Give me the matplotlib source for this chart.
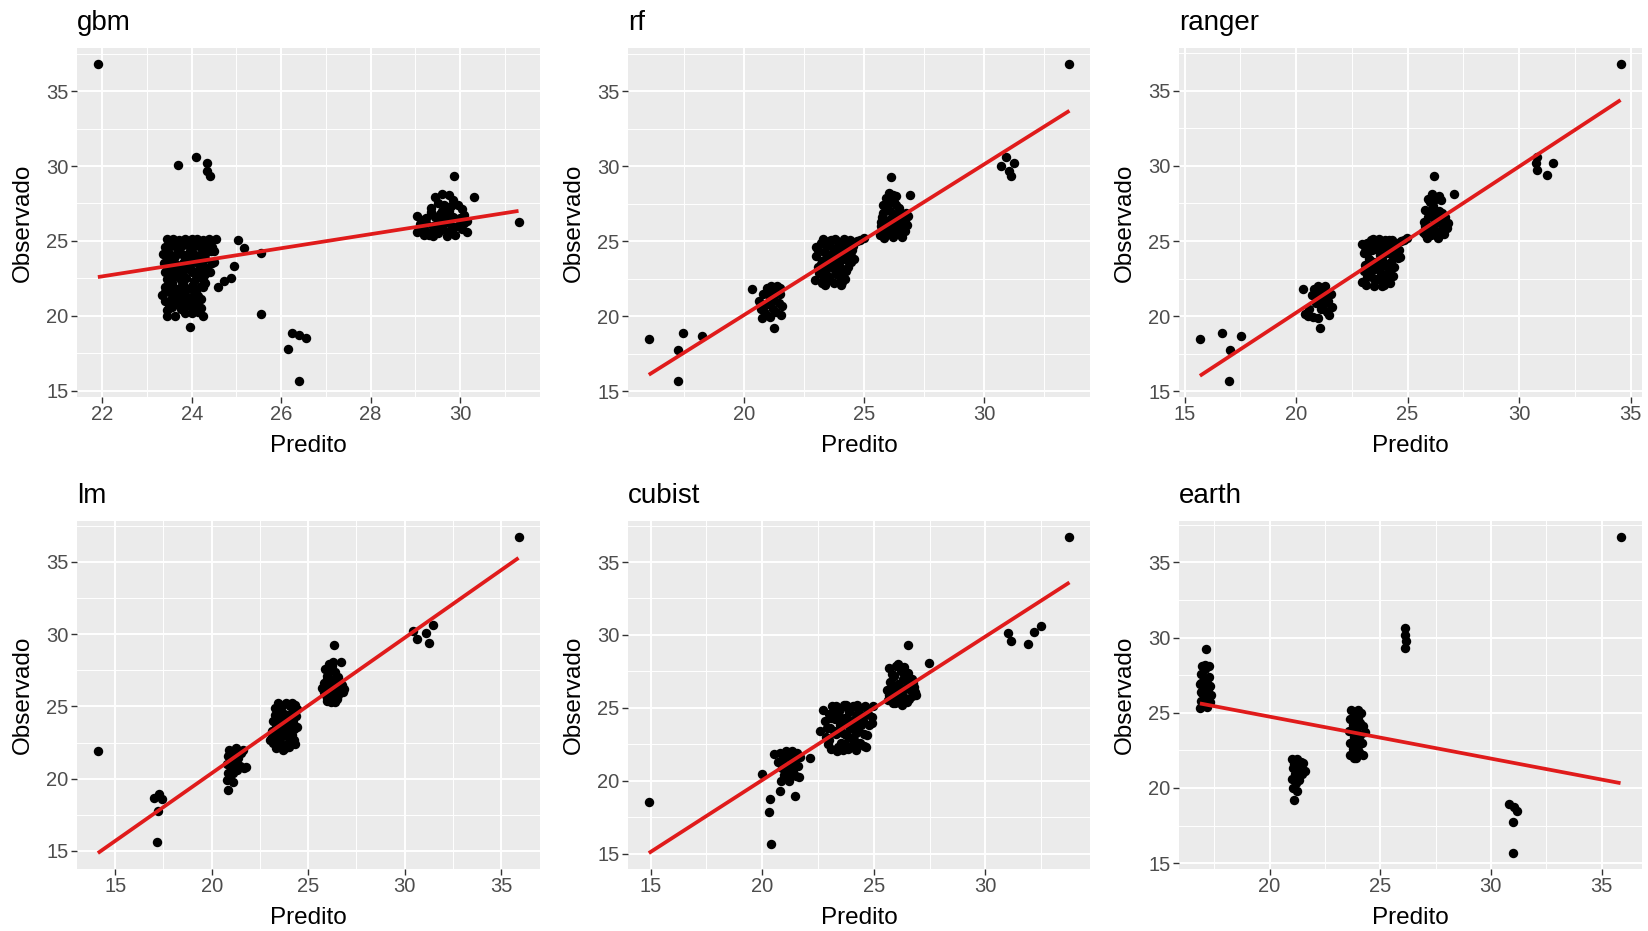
import matplotlib
matplotlib.use('Agg')
import matplotlib.pyplot as plt
from matplotlib.ticker import AutoMinorLocator

plt.rcParams['font.family'] = ['Liberation Sans', 'DejaVu Sans']

model_names = ['gbm', 'rf', 'ranger', 'lm', 'cubist', 'earth']

# (predito, observado) pairs for each model
gbm_points = [
    (21.9, 36.8), (23.7, 30.05), (24.1, 30.6), (24.33, 30.2), (24.35, 29.65), (24.4, 29.35),
    (25.55, 20.1), (26.25, 18.85), (26.4, 18.7), (26.55, 18.5), (26.15, 17.75), (26.4, 15.65),
    (31.31, 26.28), (29.86, 29.3), (30.32, 27.95), (29.03, 26.65),
    (23.45, 25.1), (23.58, 25.15), (23.72, 25.05), (23.85, 25.15), (24.0, 25.1), (24.12, 25.15),
    (24.25, 25.05), (24.38, 25.1), (24.55, 25.15),
    (23.4, 24.6), (23.55, 24.7), (23.68, 24.55), (23.8, 24.75), (23.95, 24.6), (24.08, 24.7),
    (24.2, 24.55), (24.33, 24.75), (24.45, 24.6),
    (23.35, 24.1), (23.5, 24.2), (23.62, 24.0), (23.78, 24.15), (23.9, 24.05), (24.03, 24.2),
    (24.15, 24.0), (24.3, 24.15), (24.42, 24.3), (24.5, 23.6),
    (23.38, 23.5), (23.52, 23.6), (23.66, 23.4), (23.8, 23.55), (23.95, 23.45), (24.1, 23.6),
    (24.22, 23.4), (24.35, 23.2),
    (23.4, 22.9), (23.55, 23.05), (23.7, 22.95), (23.85, 23.1), (24.0, 22.9), (24.12, 23.0),
    (24.3, 22.8), (24.4, 22.9),
    (23.45, 22.45), (23.6, 22.6), (23.75, 22.4), (23.88, 22.55), (24.05, 22.35), (24.18, 22.6),
    (24.3, 22.2),
    (23.5, 24.85), (23.65, 24.9), (23.9, 24.85), (24.15, 24.85), (24.4, 24.9), (23.45, 24.35),
    (23.7, 24.4), (23.95, 24.35), (24.25, 24.35), (24.5, 24.3), (23.45, 23.8), (23.6, 23.85),
    (23.85, 23.8), (24.05, 23.85), (24.3, 23.8), (23.45, 23.25), (23.7, 23.2), (23.95, 23.2),
    (24.2, 23.2), (24.45, 23.5), (23.5, 22.7), (23.8, 22.75), (24.1, 22.7), (24.25, 22.5),
    (23.55, 22.2), (23.8, 22.1), (24.0, 22.0), (24.2, 21.95), (23.4, 21.9), (23.55, 21.2),
    (23.9, 21.75), (24.15, 20.8), (23.5, 20.5), (24.0, 20.2),
    (24.58, 21.9), (24.73, 22.3), (24.88, 22.5), (24.95, 23.3), (25.03, 25.05), (25.17, 24.54),
    (25.55, 24.2),
    (23.33, 21.35), (23.5, 21.8), (23.62, 21.5), (23.75, 21.9), (23.85, 21.4), (24.02, 21.7),
    (24.15, 21.3), (24.25, 21.9), (23.48, 20.8), (23.6, 20.8), (23.44, 20.4), (23.63, 20.0),
    (23.92, 20.7), (23.96, 19.25), (24.1, 20.9), (24.2, 20.5), (24.25, 20.0), (23.8, 21.0),
    (24.05, 21.2), (23.7, 21.2),
    (23.4, 21.6), (23.55, 21.45), (23.65, 21.75), (23.8, 21.55), (23.95, 21.2), (24.1, 21.55),
    (24.2, 21.1), (23.4, 21.0), (23.55, 20.6), (23.75, 20.45), (23.45, 20.0), (24.0, 20.55),
    (24.15, 20.25), (23.7, 20.9), (23.85, 20.2),
    (29.45, 27.9), (29.6, 28.1), (29.75, 28.05), (29.85, 27.7), (29.5, 27.5), (29.65, 27.4),
    (29.8, 27.3), (29.35, 27.2), (29.95, 27.4), (30.05, 27.1),
    (29.05, 25.6), (29.1, 26.1), (29.2, 25.8), (29.25, 26.5), (29.3, 25.4), (29.4, 26.0),
    (29.45, 26.6), (29.5, 25.5), (29.55, 26.3), (29.6, 25.9), (29.65, 26.8), (29.7, 25.3),
    (29.75, 26.2), (29.8, 25.7), (29.85, 26.6), (29.9, 25.4), (29.95, 26.0), (30.0, 26.5),
    (30.05, 25.8), (30.1, 26.2), (30.15, 25.6), (29.35, 26.9), (29.6, 27.0), (29.15, 26.4),
    (30.1, 26.7), (29.4, 25.3),
    (29.2, 25.4), (29.35, 25.6), (29.5, 26.0), (29.7, 26.5), (29.85, 25.9), (30.0, 26.1),
    (29.55, 26.8), (29.75, 27.0), (29.25, 26.2), (30.15, 26.3), (29.7, 25.6), (29.45, 25.8),
]

rf_points = [
    (16.05, 18.5), (17.28, 17.75), (17.28, 15.7), (17.47, 18.9), (18.28, 18.67), (33.55, 36.8),
    (30.71, 30.04), (30.89, 30.6), (31.04, 29.7), (31.1, 29.33), (31.23, 30.2),
    (20.35, 21.8), (20.65, 21.0), (20.7, 20.5), (20.75, 19.9), (20.8, 21.5), (20.9, 20.2),
    (20.95, 21.9), (21.0, 20.8), (21.05, 21.4), (21.1, 19.95), (21.15, 22.0), (21.2, 20.5),
    (21.25, 21.1), (21.25, 19.2), (21.3, 21.7), (21.35, 20.3), (21.4, 22.0), (21.45, 20.9),
    (21.5, 21.5), (21.55, 20.1), (21.6, 20.7), (21.5, 21.9), (20.85, 20.7), (21.1, 21.7),
    (23.0, 24.6), (23.0, 24.0), (22.97, 22.4), (23.1, 23.3), (23.15, 22.9), (23.2, 24.9),
    (23.3, 25.15), (23.35, 24.3), (23.4, 23.6), (23.4, 22.1), (23.5, 22.7), (23.55, 24.8),
    (23.6, 23.9), (23.65, 25.1), (23.7, 23.2), (23.75, 22.2), (23.8, 24.5), (23.85, 22.8),
    (23.9, 25.0), (23.95, 23.6), (24.0, 24.2), (24.05, 22.1), (24.1, 23.0), (24.15, 24.9),
    (24.2, 23.8), (24.2, 22.5), (24.3, 24.5), (24.35, 23.3), (24.4, 25.1), (24.45, 24.0),
    (24.55, 24.7), (24.6, 23.85), (24.7, 25.05), (24.85, 25.1), (25.0, 25.2), (23.25, 23.7),
    (23.5, 23.3), (23.7, 24.3), (24.0, 22.6), (23.3, 22.4), (23.9, 23.1), (24.25, 24.1),
    (23.1, 24.4), (23.2, 23.5), (23.25, 22.2), (23.45, 24.7), (23.5, 24.0), (23.6, 22.4),
    (23.65, 23.5), (23.8, 23.7), (23.85, 24.0), (24.0, 23.3), (24.05, 24.7), (24.1, 22.3),
    (24.25, 23.0), (24.35, 24.8), (24.5, 24.4), (24.45, 23.6), (23.3, 23.0), (23.55, 25.0),
    (23.8, 25.15), (24.15, 25.15),
    (25.65, 25.4), (25.7, 26.0), (25.75, 26.6), (25.8, 27.4), (25.85, 25.2), (25.9, 27.9),
    (25.95, 26.3), (26.0, 25.7), (26.05, 28.2), (26.1, 27.0), (26.15, 26.0), (26.2, 25.3),
    (26.25, 27.6), (26.3, 26.6), (26.35, 28.0), (26.4, 25.8), (26.45, 27.2), (26.5, 26.2),
    (26.55, 25.4), (26.6, 26.8), (26.65, 25.9), (26.7, 26.4), (26.8, 26.1), (26.85, 26.7),
    (25.8, 26.9), (26.0, 27.5), (26.2, 28.1), (26.4, 26.9), (26.12, 29.3), (26.9, 28.1),
    (25.7, 25.6), (26.3, 25.5),
    (25.75, 25.9), (25.9, 25.5), (26.1, 25.6), (26.25, 26.3), (26.5, 25.7), (26.6, 25.3),
    (26.75, 26.9), (26.7, 25.7), (26.05, 26.4), (25.95, 27.2), (26.15, 27.8), (26.35, 27.4),
    (25.7, 26.3),
]

ranger_points = [
    (15.69, 18.49), (16.67, 18.9), (17.02, 17.76), (16.99, 15.71), (17.52, 18.67), (34.55, 36.76),
    (30.74, 30.16), (30.8, 29.7), (31.25, 29.4), (31.54, 30.2), (30.8, 30.6),
    (20.32, 21.82), (20.42, 20.16), (20.55, 20.0), (20.78, 19.98), (20.7, 21.4), (20.8, 21.8),
    (20.9, 20.9), (20.95, 21.6), (21.0, 22.0), (21.05, 21.2), (21.09, 19.2), (21.1, 20.5),
    (21.15, 21.9), (21.2, 21.4), (21.25, 20.8), (21.3, 22.0), (21.35, 21.6), (21.4, 20.3),
    (21.45, 21.0), (21.5, 20.1), (21.55, 21.5), (21.6, 20.6), (20.6, 20.5), (21.0, 19.9),
    (22.95, 24.8), (22.95, 22.3), (23.05, 24.2), (23.1, 23.4), (23.15, 22.1), (23.2, 24.9),
    (23.25, 23.8), (23.3, 22.7), (23.35, 25.1), (23.4, 24.4), (23.45, 23.1), (23.5, 22.0),
    (23.55, 24.9), (23.6, 23.6), (23.65, 22.5), (23.7, 25.15), (23.75, 24.1), (23.8, 22.9),
    (23.85, 22.0), (23.9, 24.7), (23.95, 23.4), (24.0, 25.1), (24.05, 22.4), (24.1, 24.2),
    (24.15, 23.0), (24.2, 24.8), (24.25, 23.6), (24.3, 25.1), (24.35, 22.7), (24.4, 24.4),
    (24.5, 24.9), (24.55, 23.9), (24.68, 23.93), (24.7, 25.0), (24.85, 25.1), (24.97, 25.2),
    (23.3, 23.2), (23.6, 24.5), (23.9, 22.3), (24.2, 22.2),
    (23.05, 23.0), (23.1, 24.6), (23.2, 22.6), (23.35, 23.7), (23.45, 24.7), (23.5, 22.5),
    (23.7, 23.3), (23.75, 24.6), (23.85, 23.8), (24.0, 22.7), (24.05, 24.45), (24.1, 23.5),
    (24.3, 24.1), (24.4, 23.3), (24.45, 24.7), (24.6, 24.4), (23.45, 25.15), (24.15, 25.1),
    (23.95, 22.05), (23.2, 24.2),
    (25.7, 25.6), (25.75, 26.3), (25.8, 27.1), (25.85, 25.2), (25.9, 27.8), (25.95, 26.0),
    (26.0, 26.8), (26.05, 25.4), (26.1, 28.1), (26.15, 27.3), (26.2, 25.8), (26.25, 26.5),
    (26.3, 27.9), (26.35, 25.2), (26.4, 27.0), (26.45, 26.2), (26.5, 25.6), (26.55, 26.9),
    (26.6, 26.0), (26.65, 25.5), (26.7, 26.6), (26.8, 26.2), (26.0, 27.6), (26.3, 26.9),
    (25.9, 26.6), (26.2, 29.3), (27.08, 28.1), (26.5, 27.7),
    (25.8, 25.5), (25.95, 25.6), (26.15, 26.1), (26.4, 25.6), (26.6, 26.5), (26.75, 25.9),
    (26.5, 26.4), (26.05, 27.0), (26.2, 27.7), (25.8, 26.0), (26.4, 28.0),
]

lm_points = [
    (14.1, 21.88), (16.99, 18.69), (17.27, 18.92), (17.4, 18.6), (17.21, 17.76), (17.18, 15.62),
    (35.9, 36.75),
    (30.41, 30.23), (30.63, 29.65), (31.1, 30.07), (31.28, 29.37), (31.46, 30.62),
    (20.82, 19.23), (20.8, 19.9), (20.85, 20.4), (20.8, 21.0), (20.85, 21.6), (20.9, 22.0),
    (20.95, 20.1), (21.0, 20.7), (21.0, 21.3), (21.05, 21.9), (21.1, 19.8), (21.1, 20.4),
    (21.15, 21.0), (21.2, 21.7), (21.25, 22.1), (21.3, 20.6), (21.35, 21.4), (21.4, 21.9),
    (21.45, 20.9), (21.5, 21.8), (21.65, 20.76), (21.8, 20.8), (21.6, 22.0), (20.95, 21.4),
    (23.0, 22.7), (23.1, 23.3), (23.15, 22.5), (23.2, 24.0), (23.3, 24.9), (23.35, 23.6),
    (23.4, 22.2), (23.45, 25.2), (23.5, 24.4), (23.55, 22.9), (23.6, 23.9), (23.65, 25.0),
    (23.7, 22.0), (23.75, 24.5), (23.8, 23.2), (23.85, 25.2), (23.9, 22.4), (23.95, 24.0),
    (24.0, 23.5), (24.05, 25.0), (24.1, 24.5), (24.15, 23.0), (24.2, 23.9), (24.25, 22.67),
    (24.3, 25.1), (24.35, 24.3), (24.4, 24.8), (24.4, 23.6), (23.5, 23.3), (23.8, 22.1),
    (24.0, 22.8), (23.3, 24.4),
    (23.1, 22.9), (23.2, 23.0), (23.3, 23.3), (23.4, 24.0), (23.45, 22.6), (23.6, 24.6),
    (23.65, 22.3), (23.7, 23.7), (23.85, 24.4), (23.9, 23.5), (24.0, 22.2), (24.1, 24.0),
    (24.2, 24.9), (24.25, 23.4), (24.3, 22.4), (23.55, 25.1), (24.15, 25.2), (23.35, 22.1),
    (23.6, 22.9),
    (25.7, 26.3), (25.8, 26.6), (25.85, 27.6), (25.9, 25.8), (26.0, 27.1), (26.0, 25.4),
    (26.1, 27.9), (26.1, 26.2), (26.2, 25.3), (26.25, 26.8), (26.3, 28.1), (26.35, 25.8),
    (26.4, 27.4), (26.45, 26.4), (26.5, 25.5), (26.55, 27.0), (26.6, 26.0), (26.7, 28.1),
    (26.75, 26.5), (26.88, 26.2), (26.33, 29.26), (26.2, 27.5), (25.95, 26.9), (26.4, 25.3),
    (25.8, 26.0), (25.95, 25.6), (26.15, 26.5), (26.3, 25.6), (26.55, 25.8), (26.65, 26.7),
    (26.8, 26.0), (26.05, 27.4), (26.25, 27.8), (26.5, 26.2),
]

cubist_points = [
    (14.92, 18.53), (33.77, 36.75),
    (31.03, 30.11), (31.14, 29.6), (31.9, 29.38), (32.2, 30.23), (32.5, 30.6),
    (20.0, 20.46), (20.35, 18.75), (20.29, 17.84), (20.41, 15.67), (20.81, 19.27), (20.84, 20.0),
    (21.2, 20.0), (21.48, 18.93), (21.67, 20.23), (22.14, 21.55),
    (20.55, 21.8), (20.7, 21.3), (20.8, 21.9), (20.9, 20.9), (20.95, 21.5), (21.05, 22.0),
    (21.1, 21.0), (21.15, 20.5), (21.2, 21.7), (21.3, 21.2), (21.35, 22.0), (21.4, 20.7),
    (21.45, 21.5), (21.5, 20.3), (21.55, 21.9), (21.6, 21.0), (21.7, 21.6), (21.0, 20.4),
    (21.25, 20.3),
    (22.73, 24.84), (22.57, 23.42), (22.8, 24.1), (22.85, 23.0), (22.95, 22.5), (23.0, 24.6),
    (23.05, 23.6), (23.1, 22.2), (23.15, 25.1), (23.25, 24.2), (23.3, 23.2), (23.35, 22.0),
    (23.45, 24.8), (23.5, 23.8), (23.55, 22.6), (23.65, 25.2), (23.7, 24.3), (23.75, 23.1),
    (23.85, 22.2), (23.9, 24.7), (23.95, 23.6), (24.05, 25.1), (24.1, 22.8), (24.15, 24.2),
    (24.2, 22.1), (24.3, 23.5), (24.35, 24.9), (24.4, 22.6), (24.5, 24.1), (24.55, 23.2),
    (24.6, 25.1), (24.65, 22.3), (24.75, 24.6), (24.8, 23.8), (24.92, 23.93), (24.95, 25.1),
    (24.9, 24.4), (23.4, 23.4), (23.8, 23.9), (24.2, 23.3), (24.0, 24.1), (23.6, 22.1),
    (22.9, 23.6), (23.0, 22.8), (23.1, 24.3), (23.2, 23.4), (23.3, 24.8), (23.4, 22.3),
    (23.55, 24.3), (23.6, 23.3), (23.7, 22.5), (23.85, 24.9), (23.9, 23.0), (24.0, 22.4),
    (24.1, 23.9), (24.25, 24.6), (24.3, 22.5), (24.45, 23.8), (24.6, 24.5), (24.7, 23.1),
    (23.75, 25.2), (24.25, 25.2), (23.3, 25.1), (24.55, 22.4),
    (25.6, 26.2), (25.65, 25.5), (25.7, 27.7), (25.75, 26.8), (25.85, 25.3), (25.9, 27.2),
    (25.95, 26.0), (26.0, 27.9), (26.05, 25.6), (26.1, 26.6), (26.2, 27.5), (26.25, 25.2),
    (26.3, 26.2), (26.35, 27.8), (26.4, 25.7), (26.45, 26.9), (26.5, 25.4), (26.55, 27.4),
    (26.6, 26.3), (26.7, 25.8), (26.75, 26.7), (26.85, 26.1), (26.9, 25.9), (26.55, 29.33),
    (27.48, 28.1), (26.1, 28.0),
    (25.7, 25.9), (25.85, 26.5), (25.8, 27.3), (26.0, 26.4), (26.15, 25.4), (26.3, 27.0),
    (26.45, 26.4), (26.6, 25.6), (26.8, 26.4), (26.7, 27.0), (26.2, 26.0), (25.95, 25.3),
]

earth_points = [
    (35.86, 36.72),
    (26.1, 30.65), (26.1, 30.2), (26.15, 29.76), (26.12, 29.3),
    (30.82, 18.94), (31.03, 18.71), (31.19, 18.49), (30.98, 17.72), (31.0, 15.67),
    (16.85, 25.3), (16.9, 25.8), (16.88, 26.4), (16.92, 27.0), (16.9, 27.6), (16.95, 28.1),
    (17.0, 25.5), (17.05, 26.1), (17.0, 26.8), (17.05, 27.3), (17.1, 27.9), (17.15, 25.4),
    (17.2, 26.6), (17.15, 27.0), (17.25, 28.1), (17.3, 26.8), (17.3, 25.7), (17.35, 26.2),
    (17.2, 25.9), (17.12, 29.26), (16.95, 26.3), (17.1, 28.2), (17.25, 27.4), (16.85, 26.9),
    (21.0, 21.9), (21.05, 21.3), (21.0, 20.6), (21.05, 20.0), (21.12, 19.23), (21.1, 21.6),
    (21.15, 20.9), (21.2, 20.3), (21.25, 21.9), (21.3, 21.2), (21.35, 20.5), (21.4, 21.7),
    (21.5, 21.66), (21.6, 21.1), (21.45, 20.9), (21.25, 19.8),
    (23.65, 22.2), (23.65, 23.0), (23.6, 23.8), (23.65, 24.6), (23.7, 25.2), (23.75, 22.6),
    (23.8, 23.4), (23.75, 24.2), (23.85, 24.9), (23.9, 22.0), (23.95, 23.1), (23.9, 23.9),
    (24.0, 24.6), (24.0, 25.2), (24.05, 22.4), (24.1, 23.5), (24.1, 24.3), (24.15, 25.0),
    (24.16, 23.0), (24.24, 24.1), (24.3, 23.7), (24.2, 22.2), (23.8, 22.0), (24.0, 22.8),
]

# ends of the fitted lm line (Observado ~ Predito) in each panel
fit_x0 = [21.9, 16.05, 15.69, 14.1, 14.92, 16.85]
fit_x1 = [31.31, 33.55, 34.55, 35.9, 33.77, 35.86]
fit_y0 = [22.58, 16.1, 16.04, 14.85, 15.03, 25.62]
fit_y1 = [27.0, 33.7, 34.38, 35.27, 33.6, 20.32]

x_breaks = [
    [22, 24, 26, 28, 30],
    [20, 25, 30],
    [15, 20, 25, 30, 35],
    [15, 20, 25, 30, 35],
    [15, 20, 25, 30],
    [20, 25, 30, 35],
]
y_breaks = [15, 20, 25, 30, 35]

points = [gbm_points, rf_points, ranger_points, lm_points, cubist_points, earth_points]


def gg_panel(ax, name, pts, i):
    '''desenha um painel no estilo do tema cinza do ggplot'''
    pred = [p[0] for p in pts]
    obs = [p[1] for p in pts]
    ax.plot(pred, obs, 'o', color='black', ms=6.8, mec='none', zorder=3)
    ax.plot([fit_x0[i], fit_x1[i]], [fit_y0[i], fit_y1[i]],
            color='#E01B1B', lw=2.7, zorder=4, solid_capstyle='butt')
    ax.margins(0.05)
    ax.set_xlim(ax.get_xlim())
    ax.set_ylim(ax.get_ylim())
    ax.set_xticks(x_breaks[i])
    ax.set_yticks(y_breaks)
    ax.xaxis.set_minor_locator(AutoMinorLocator(2))
    ax.yaxis.set_minor_locator(AutoMinorLocator(2))

    ax.set_facecolor('#EBEBEB')
    ax.set_axisbelow(True)
    ax.grid(which='major', color='white', lw=1.4)
    ax.grid(which='minor', color='white', lw=0.7)
    for s in ax.spines.values():
        s.set_visible(False)
    ax.tick_params(which='major', length=4, width=1, color='#333333',
                   labelsize=14.5, labelcolor='#4D4D4D', pad=2)
    ax.tick_params(which='minor', length=0)

    ax.set_xlabel('Predito', fontsize=17.5, labelpad=8)
    ax.set_ylabel('Observado', fontsize=17.5, labelpad=9)
    ax.set_title(name, loc='left', fontsize=20, pad=13)


fig = plt.figure(figsize=(16.49, 9.31), dpi=100)
lefts = [0.0466, 0.3807, 0.7149]
bottoms = [0.574, 0.0667]
for i, name in enumerate(model_names):
    ax = fig.add_axes([lefts[i % 3], bottoms[i // 3], 0.2806, 0.374])
    gg_panel(ax, name, points[i], i)

fig.savefig('out.png', dpi=100)
